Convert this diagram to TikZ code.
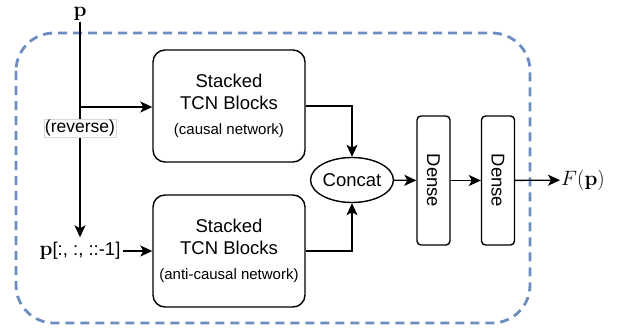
\documentclass[tikz,border=0pt]{standalone}
\usepackage[no-math]{fontspec}
\setmainfont{Liberation Sans}
\usetikzlibrary{shapes.geometric,arrows.meta}
\definecolor{outerblue}{RGB}{108,142,191}
\begin{document}
\begin{tikzpicture}[x=1pt,y=-1pt,
  mainfont/.style={font=\fontsize{18.5}{22}\selectfont},
  conn/.style={line width=1.3pt,-{Stealth[length=12pt,width=11pt,inset=3pt]}},
  tcn/.style={draw,line width=1.4pt,rounded corners=12pt,minimum width=152pt,minimum height=112pt,align=center,mainfont,inner sep=0pt},
  dense/.style={draw,line width=1.4pt,rounded corners=4pt,minimum width=33pt,minimum height=129pt,mainfont,inner sep=0pt},
  outerbox/.style={draw=outerblue,line width=2.8pt,dash pattern=on 9pt off 6pt,rounded corners=38pt}]
\useasboundingbox (0,0) rectangle (621,329);
\draw[outerbox] (16,33) rectangle (530,323);

\node[font=\fontsize{21}{22}\selectfont,inner sep=1pt] (p) at (80,14) {$\mathbf{p}$};
\node[mainfont,inner xsep=2pt,inner ysep=5pt,text height=13pt,text depth=4pt] (pr) at (80,251) {\fontsize{20}{22}\selectfont$\mathbf{p}$\fontsize{18.5}{22}\selectfont[:, :, ::-1]};

\node[tcn] (t1) at (229,106) {Stacked\\TCN Blocks\\[3pt]{\fontsize{15}{18}\selectfont (causal network)}};
\node[tcn] (t2) at (229,251) {Stacked\\TCN Blocks\\[3pt]{\fontsize{15}{18}\selectfont (anti-causal network)}};

\node[draw,ellipse,line width=1.4pt,minimum width=78pt,minimum height=45pt,inner sep=0pt,mainfont] (concat) at (352,180) {Concat};
\node[dense] (d1) at (433.5,180.5) {\rotatebox{-90}{Dense}};
\node[dense] (d2) at (498,180.5) {\rotatebox{-90}{Dense}};
\node[anchor=west,inner sep=1pt,font=\fontsize{20}{22}\selectfont] (out) at (560,180) {$F(\mathbf{p})$};

\coordinate (br) at (80,107);
\draw[conn] (p) -- (pr);
\draw[conn] (br) -- (br -| t1.west);
\node[draw=black!15,line width=0.5pt,fill=white,inner xsep=1pt,inner ysep=1pt,font=\fontsize{17.5}{20}\selectfont] (rev) at (80,128) {(reverse)};
\draw[conn] (pr.east) -- (t2.west);
\draw[conn] (t1.east) -| (concat.north);
\draw[conn] (t2.east) -| (concat.south);
\draw[conn] (concat) -- (d1);
\draw[conn] (d1) -- (d2);
\draw[conn] (d2) -- (out);
\end{tikzpicture}
\end{document}
